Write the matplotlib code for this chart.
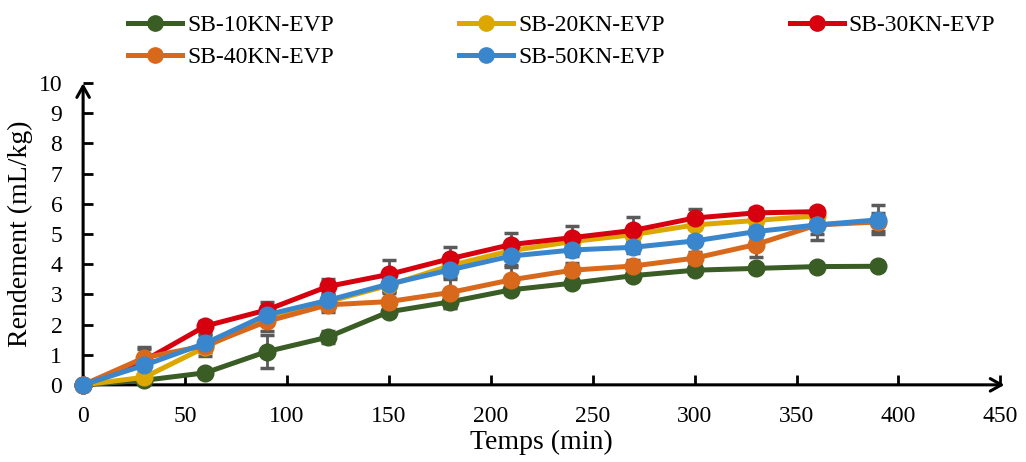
import matplotlib
matplotlib.use("Agg")
import matplotlib.pyplot as plt
from matplotlib.lines import Line2D

plt.rcParams['font.family'] = ['Liberation Serif', 'DejaVu Serif']

time = [0, 30, 60, 90, 120, 150, 180, 210, 240, 270, 300, 330, 360, 390]

labels = ["SB-10KN-EVP", "SB-20KN-EVP", "SB-30KN-EVP", "SB-40KN-EVP", "SB-50KN-EVP"]
colors = ['#3a5c25', '#dca800', '#d6000f', '#d8691c', '#3a86cc']

sb10 = [0, 0.15, 0.4, 1.1, 1.58, 2.42, 2.75, 3.15, 3.37, 3.62, 3.8, 3.86, 3.92, 3.93]
sb20 = [0, 0.25, 1.25, 2.22, 2.75, 3.3, 3.95, 4.45, 4.75, 4.98, 5.3, 5.45, 5.6]
sb30 = [0, 0.8, 1.95, 2.48, 3.26, 3.66, 4.18, 4.65, 4.88, 5.12, 5.53, 5.7, 5.74]
sb40 = [0, 0.9, 1.3, 2.1, 2.65, 2.76, 3.06, 3.48, 3.8, 3.94, 4.2, 4.65, 5.3, 5.4]
sb50 = [0, 0.65, 1.38, 2.32, 2.8, 3.34, 3.81, 4.27, 4.47, 4.56, 4.77, 5.08, 5.3, 5.47]

err10 = [0, 0.05, 0.1, 0.55, 0.2, 0.15, 0.2, 0.15, 0.1, 0.12, 0.1, 0.1, 0.08, 0.08]
err20 = [0, 0.1, 0.15, 0.2, 0.15, 0.2, 0.2, 0.2, 0.2, 0.2, 0.15, 0.15, 0.15]
err30 = [0, 0.4, 0.15, 0.25, 0.25, 0.48, 0.38, 0.38, 0.37, 0.44, 0.3, 0.15, 0.12]
err40 = [0, 0.35, 0.35, 0.3, 0.25, 0.35, 0.5, 0.42, 0.25, 0.2, 0.2, 0.4, 0.3, 0.3]
err50 = [0, 0.3, 0.3, 0.25, 0.2, 0.3, 0.3, 0.3, 0.2, 0.2, 0.15, 0.2, 0.5, 0.48]

series = [sb10, sb20, sb30, sb40, sb50]
errors = [err10, err20, err30, err40, err50]

fig = plt.figure(figsize=(10.26, 4.62), dpi=100)
ax = fig.add_axes([0.081, 0.167, 0.894, 0.653])

for y, e, c, lab in zip(series, errors, colors, labels):
    t = time[:len(y)]
    ax.errorbar(t, y, yerr=e, fmt='none', ecolor='#5a5a5a', elinewidth=2,
                capsize=5, capthick=2.5, zorder=2)
    ax.plot(t, y, color=c, lw=3.6, marker='o', markersize=12, label=lab, zorder=3,
            clip_on=False)

ax.set_xlim(0, 450)
ax.set_ylim(0, 10)
ax.set_xticks(range(0, 451, 50))
ax.set_yticks(range(0, 11))
for s in ax.spines.values():
    s.set_visible(False)
ax.tick_params(axis='both', direction='in', length=7, width=2, labelsize=17, color='black')
ax.tick_params(axis='x', pad=15)
ax.tick_params(axis='y', pad=15)

ax.annotate('', xy=(1.0045, 0), xytext=(0, 0), xycoords='axes fraction',
            arrowprops=dict(arrowstyle='->,head_length=0.8,head_width=0.45', lw=2.2, color='black',
                            shrinkA=0, shrinkB=0), zorder=1, annotation_clip=False)
ax.annotate('', xy=(0, 1.0), xytext=(0, 0), xycoords='axes fraction',
            arrowprops=dict(arrowstyle='->,head_length=0.8,head_width=0.45', lw=2.2, color='black',
                            shrinkA=0, shrinkB=0), zorder=1, annotation_clip=False)

ax.set_xlabel('Temps (min)', fontsize=20, labelpad=2)
ax.set_ylabel('Rendement (mL/kg)', fontsize=20, labelpad=4)

handles = [Line2D([], [], color=c, lw=3.6, marker='o', markersize=11) for c in colors]
order = [0, 3, 1, 4, 2]
fig.legend([handles[i] for i in order], [labels[i] for i in order], ncol=3,
           loc='upper left', bbox_to_anchor=(0.104, 1.015), frameon=False, fontsize=17,
           columnspacing=5.3, handlelength=2.3, handletextpad=0.2, labelspacing=0.45)

fig.savefig('out.png', dpi=100)
